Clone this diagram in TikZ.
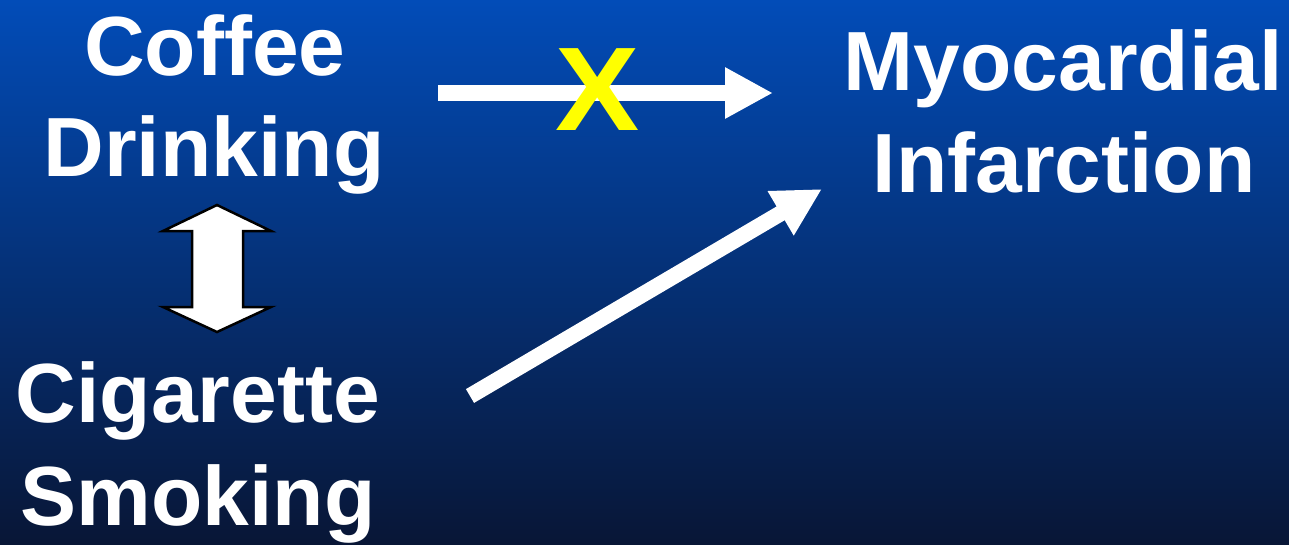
\documentclass[tikz,border=0pt]{standalone}
\usepackage{fontspec}
\setmainfont{Liberation Sans}
\usetikzlibrary{arrows.meta}
\definecolor{bgtop}{RGB}{2,76,184}
\definecolor{bgmid}{RGB}{0,50,128}
\definecolor{bgbot}{RGB}{8,22,54}
\definecolor{xyellow}{RGB}{255,255,0}
\tikzset{
  lbl/.style={anchor=base, inner sep=0pt, text=white, font=\fontsize{84}{101}\selectfont\bfseries},
  fatarrow/.style={draw=white, line width=16pt, -{Triangle[length=48pt,width=48pt]}},
  blockarrow/.style={fill=white, draw=black, line width=2.5pt, line join=miter},
}
\begin{document}
\begin{tikzpicture}[x=1pt,y=-1pt]
\useasboundingbox (0,0) rectangle (1289,544);
\shade[top color=bgtop, middle color=bgmid, bottom color=bgbot] (0,0) rectangle (1289,544);

% labels
\node[lbl] (coffee)   at (215,75)  {Coffee};
\node[lbl] (drinking) at (214,176) {Drinking};
\node[lbl] (myo)      at (1063,90) {Myocardial};
\node[lbl] (inf)      at (1064,192) {Infarction};
\node[lbl] (cig)      at (198,422) {Cigarette};
\node[lbl] (smoking)  at (198,525) {Smoking};

% arrow endpoints
\coordinate (a1s) at (438,93);
\coordinate (a1e) at (773,93);
\coordinate (a2s) at (470,396);
\coordinate (a2e) at (822,189);

\draw[fatarrow] (a1s) -- (a1e);
\draw[fatarrow] (a2s) -- (a2e);

% yellow X
\node[anchor=base, inner sep=0pt, text=xyellow, xscale=1.06,
      font=\fontsize{119}{140}\selectfont\bfseries] (cross) at (598,130) {X};

% double block arrow
\draw[blockarrow] (217,205) -- (271,231) -- (243,231) -- (243,307) -- (271,307)
  -- (217,332) -- (163,307) -- (192,307) -- (192,231) -- (163,231) -- cycle;
\end{tikzpicture}
\end{document}
